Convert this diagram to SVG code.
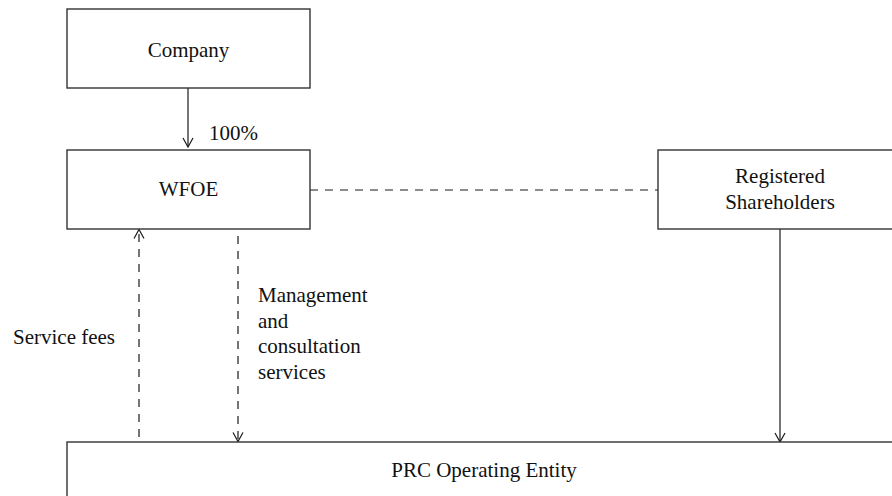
<svg xmlns="http://www.w3.org/2000/svg" width="892" height="496" viewBox="0 0 892 496">
<defs>
<style>
.box{fill:#fff;stroke:#333;stroke-width:1.4}
.t{font-family:"Liberation Serif","Times New Roman",serif;font-size:21px;fill:#111}
.c{text-anchor:middle}
.ln{fill:none;stroke:#1a1a1a;stroke-width:1.2}
.d{stroke-dasharray:8 7}
</style>
<marker id="ah" viewBox="-10 -6 12 12" refX="0" refY="0" markerWidth="12" markerHeight="12" markerUnits="userSpaceOnUse" orient="auto">
<path d="M-9,-5 L0,0 L-9,5" fill="none" stroke="#1a1a1a" stroke-width="1.2"/>
</marker>
</defs>
<rect width="892" height="496" fill="#fff"/>
<g id="connectors">
<line class="ln" x1="188" y1="88" x2="188" y2="147" marker-end="url(#ah)"/>
<line class="ln d" x1="310" y1="190" x2="658" y2="190"/>
<line class="ln" x1="780" y1="229" x2="780" y2="442" marker-end="url(#ah)"/>
<line class="ln d" x1="139" y1="437" x2="139" y2="229.5" marker-end="url(#ah)"/>
<line class="ln d" x1="238" y1="236" x2="238" y2="441.5" marker-end="url(#ah)"/>
<text class="t" x="209" y="140">100%</text>
<text class="t" x="13" y="344">Service fees</text>
<text class="t" x="258" y="302">Management</text>
<text class="t" x="258" y="328">and</text>
<text class="t" x="258" y="353">consultation</text>
<text class="t" x="258" y="379">services</text>
</g>
<g id="company">
<rect class="box" x="67" y="9" width="243" height="79"/>
<text class="t c" x="188.5" y="57">Company</text>
</g>
<g id="wfoe">
<rect class="box" x="67" y="150" width="243" height="79"/>
<text class="t c" x="188.5" y="196">WFOE</text>
</g>
<g id="shareholders">
<rect class="box" x="658" y="150" width="250" height="79"/>
<text class="t c" x="780" y="183">Registered</text>
<text class="t c" x="780" y="209">Shareholders</text>
</g>
<g id="prc">
<rect class="box" x="67" y="442" width="840" height="70"/>
<text class="t c" x="484" y="477">PRC Operating Entity</text>
</g>
</svg>
